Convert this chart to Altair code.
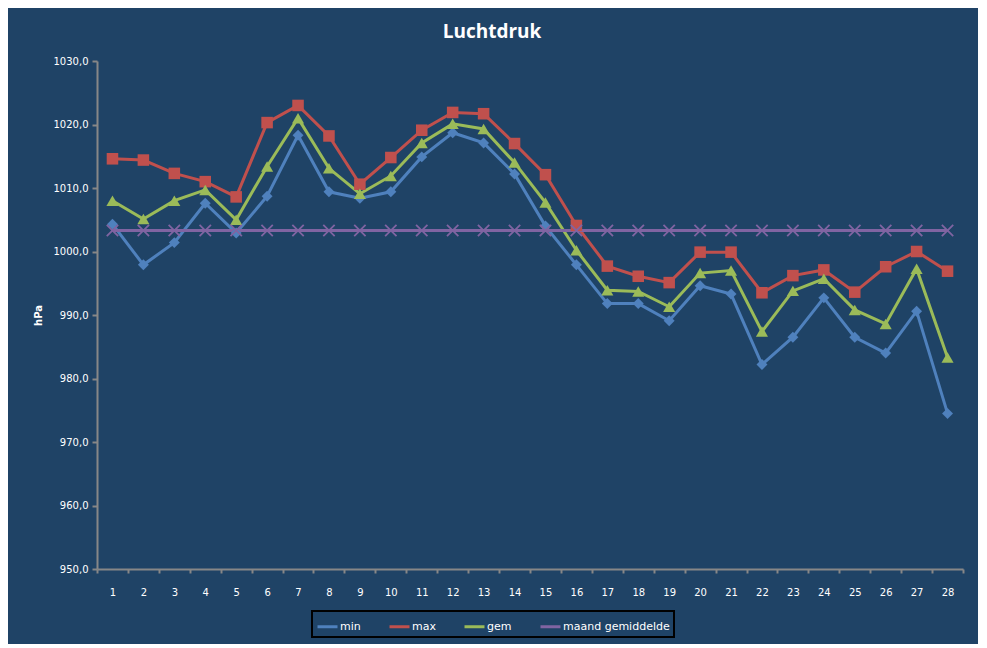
import altair as alt
import pandas as pd

# Dagen van de maand
days = list(range(1, 29))

# Luchtdruk per dag (hPa)
p_min = [1004.3, 997.9, 1001.4, 1007.6, 1002.9, 1008.7, 1018.3, 1009.4, 1008.4, 1009.4,
         1014.9, 1018.7, 1017.1, 1012.2, 1004.0, 997.9, 991.8, 991.8, 989.1, 994.6,
         993.3, 982.2, 986.5, 992.7, 986.5, 984.0, 990.6, 974.5]
p_max = [1014.6, 1014.4, 1012.3, 1011.0, 1008.6, 1020.3, 1023.0, 1018.2, 1010.6, 1014.8,
         1019.1, 1021.9, 1021.7, 1017.0, 1012.1, 1004.1, 997.7, 996.1, 995.1, 999.9,
         999.9, 993.5, 996.2, 997.1, 993.6, 997.6, 1000.0, 996.9]
p_gem = [1008.0, 1005.1, 1008.0, 1009.7, 1005.0, 1013.4, 1021.0, 1013.1, 1009.1, 1011.9,
         1017.1, 1020.1, 1019.3, 1014.0, 1007.7, 1000.2, 993.9, 993.7, 991.3, 996.6,
         997.0, 987.4, 993.8, 995.7, 990.8, 988.6, 997.3, 983.3]
maand_gem = 1003.3

series = ['min', 'max', 'gem', 'maand gemiddelde']
colors = ['#4F81BD', '#C0504D', '#9BBB59', '#8064A2']
x_shape = 'M-1,-0.8L-0.8,-1L0,-0.2L0.8,-1L1,-0.8L0.2,0L1,0.8L0.8,1L0,0.2L-0.8,1L-1,0.8L-0.2,0Z'
shapes = ['diamond', 'square', 'triangle-up', x_shape]

rows = []
for i, d in enumerate(days):
    rows.append({'dag': d, 'reeks': 'min', 'hPa': p_min[i]})
    rows.append({'dag': d, 'reeks': 'max', 'hPa': p_max[i]})
    rows.append({'dag': d, 'reeks': 'gem', 'hPa': p_gem[i]})
    rows.append({'dag': d, 'reeks': 'maand gemiddelde', 'hPa': maand_gem})
df = pd.DataFrame(rows)
# aparte kolom voor de markers, zodat de legenda alleen lijnen toont
df['vorm'] = df['reeks']

x_enc = alt.X('dag:O',
              scale=alt.Scale(type='band', paddingInner=0, paddingOuter=0),
              axis=alt.Axis(title=None, labelAngle=0, tickBand='extent',
                            tickSize=4, labelPadding=14))
y_enc = alt.Y('hPa:Q',
              scale=alt.Scale(domain=[950, 1030], nice=False, zero=False),
              axis=alt.Axis(title='hPa', values=list(range(950, 1031, 10)),
                            labelExpr="replace(format(datum.value, '.1f'), '.', ',')",
                            tickSize=5, labelPadding=4, titlePadding=10,
                            titleFontWeight='bold', titleFontSize=10))

lines = alt.Chart(df).mark_line(strokeWidth=3).encode(
    x=x_enc,
    y=y_enc,
    color=alt.Color('reeks:N', sort=series,
                    scale=alt.Scale(domain=series, range=colors),
                    legend=alt.Legend(title=None, orient='none', direction='horizontal',
                                      legendX=215, legendY=550,
                                      symbolType='stroke', symbolSize=400,
                                      symbolStrokeWidth=3, columnPadding=22,
                                      labelOffset=1, padding=4,
                                      strokeColor='black', fillColor='#1F4366')),
    detail='reeks:N'
)

points = alt.Chart(df).mark_point(filled=True, opacity=1).encode(
    x=x_enc,
    y=y_enc,
    color=alt.Color('vorm:N', sort=series,
                    scale=alt.Scale(domain=series, range=colors), legend=None),
    shape=alt.Shape('vorm:N', sort=series,
                    scale=alt.Scale(domain=series, range=shapes), legend=None),
    size=alt.Size('vorm:N', sort=series,
                  scale=alt.Scale(domain=series, range=[120, 160, 130, 100]), legend=None),
    tooltip=['dag:O', 'reeks:N', alt.Tooltip('hPa:Q', format='.1f')]
)

chart = alt.layer(lines, points).resolve_scale(
    color='independent'
).properties(
    width=866,
    height=508,
    autosize=alt.AutoSizeParams(type='none'),
    padding={'left': 89, 'top': 53, 'right': 15, 'bottom': 75},
    background='#1F4366',
    title=alt.TitleParams('Luchtdruk', fontSize=19, fontWeight='bold', color='white',
                          font='Open Sans', anchor='middle', dx=-38, offset=14)
).configure_view(
    strokeWidth=0
).configure_axis(
    domainColor='#878787',
    domainWidth=2,
    tickColor='#878787',
    tickWidth=2,
    grid=False,
    labelColor='white',
    titleColor='white',
    labelFont='DejaVu Sans',
    titleFont='DejaVu Sans',
    labelFontSize=10
).configure_legend(
    labelColor='white',
    labelFont='DejaVu Sans',
    labelFontSize=11,
    strokeWidth=2
)

chart.save('out.html', embed_options={'renderer': 'svg', 'actions': False})
